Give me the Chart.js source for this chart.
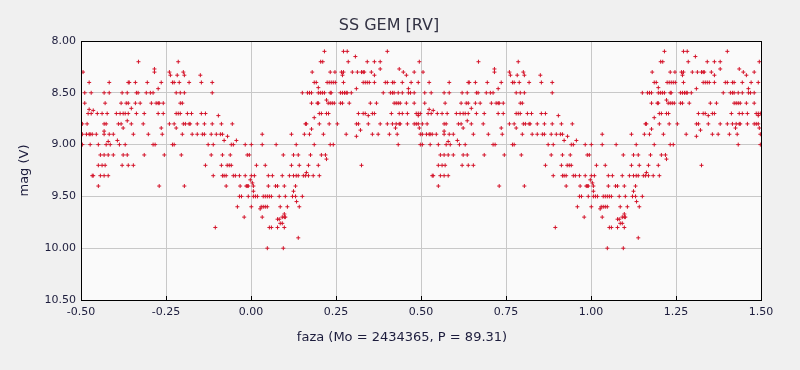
<!DOCTYPE html>
<html><head><meta charset="utf-8">
<script src="https://cdn.jsdelivr.net/npm/chart.js@4.4.0/dist/chart.umd.min.js"></script>
<style>html,body{margin:0;padding:0;background:#f0f0f0;overflow:hidden}</style>
</head><body>
<canvas id="c" width="800" height="370"></canvas>
<script>
const chartTitle = 'SS GEM [RV]';
const xTitle = 'faza (Mo = 2434365, P = 89.31)';
const yTitle = 'mag (V)';
const xTicks = [-0.5, -0.25, 0, 0.25, 0.5, 0.75, 1, 1.25, 1.5];
const yTicks = [8, 8.5, 9, 9.5, 10, 10.5];

// magnitude levels and the phases (0..1) at which observations appear
const magLevels = [
  8.1, 8.15, 8.2, 8.27, 8.3, 8.33, 8.4, 8.45, 8.46, 8.5, 8.57, 8.6, 8.65, 8.66, 8.67,
  8.7, 8.72, 8.74, 8.77, 8.8, 8.84, 8.85, 8.86, 8.87, 8.9, 8.92, 8.96, 8.97, 9.0,
  9.1, 9.14, 9.2, 9.27, 9.3, 9.34, 9.37, 9.4, 9.45, 9.5, 9.55, 9.6, 9.62, 9.67,
  9.7, 9.72, 9.76, 9.8, 9.9, 10.0
];
const phasesAtLevel = [
  /*8.1 */ [0.216, 0.272, 0.283, 0.401],
  /*8.15*/ [0.307],
  /*8.2 */ [0.205, 0.211, 0.286, 0.342, 0.363, 0.380, 0.495, 0.669, 0.786],
  /*8.27*/ [0.380, 0.436, 0.716],
  /*8.3 */ [0.180, 0.233, 0.247, 0.266, 0.272, 0.298, 0.313, 0.325, 0.330, 0.333, 0.354, 0.448, 0.480, 0.506, 0.716, 0.760, 0.801],
  /*8.33*/ [0.269, 0.363, 0.457, 0.763, 0.783, 0.804, 0.851],
  /*8.4 */ [0.186, 0.192, 0.224, 0.230, 0.236, 0.242, 0.248, 0.272, 0.330, 0.336, 0.342, 0.348, 0.363, 0.395, 0.401, 0.416, 0.421, 0.445, 0.471, 0.492, 0.524, 0.583, 0.639, 0.642, 0.660, 0.695, 0.736, 0.769, 0.774, 0.789, 0.818, 0.854, 0.886],
  /*8.45*/ [0.198],
  /*8.46*/ [0.310, 0.463, 0.727],
  /*8.5 */ [0.151, 0.166, 0.172, 0.178, 0.198, 0.204, 0.210, 0.216, 0.233, 0.236, 0.263, 0.269, 0.275, 0.280, 0.283, 0.295, 0.389, 0.410, 0.416, 0.421, 0.433, 0.445, 0.463, 0.469, 0.480, 0.511, 0.530, 0.568, 0.583, 0.621, 0.636, 0.663, 0.668, 0.692, 0.704, 0.712, 0.780, 0.792, 0.804, 0.886],
  /*8.57*/ [0.222],
  /*8.6 */ [0.178, 0.195, 0.198, 0.227, 0.233, 0.239, 0.245, 0.263, 0.269, 0.289, 0.351, 0.369, 0.421, 0.427, 0.433, 0.439, 0.457, 0.480, 0.511, 0.571, 0.618, 0.633, 0.639, 0.660, 0.674, 0.707, 0.721, 0.727, 0.730, 0.742, 0.792, 0.798],
  /*8.65*/ [0.648],
  /*8.66*/ [0.524],
  /*8.67*/ [0.536],
  /*8.7 */ [0.201, 0.207, 0.222, 0.228, 0.316, 0.330, 0.336, 0.357, 0.363, 0.413, 0.436, 0.445, 0.460, 0.486, 0.492, 0.498, 0.521, 0.530, 0.548, 0.562, 0.577, 0.604, 0.615, 0.624, 0.630, 0.639, 0.663, 0.686, 0.727, 0.742, 0.780, 0.786, 0.792, 0.813, 0.825, 0.854, 0.866],
  /*8.72*/ [0.345, 0.492, 0.904],
  /*8.74*/ [0.186],
  /*8.77*/ [0.636],
  /*8.8 */ [0.160, 0.163, 0.201, 0.230, 0.254, 0.310, 0.316, 0.345, 0.380, 0.401, 0.416, 0.427, 0.436, 0.439, 0.460, 0.480, 0.486, 0.492, 0.504, 0.518, 0.568, 0.574, 0.610, 0.618, 0.648, 0.683, 0.760, 0.774, 0.801, 0.807, 0.818, 0.821, 0.842, 0.863, 0.886, 0.913, 0.945],
  /*8.84*/ [0.425, 0.495, 0.624, 0.736, 0.780],
  /*8.85*/ [0.178],
  /*8.86*/ [0.322],
  /*8.87*/ [0.568],
  /*8.9 */ [0.033, 0.119, 0.157, 0.172, 0.213, 0.280, 0.357, 0.374, 0.407, 0.430, 0.498, 0.504, 0.516, 0.524, 0.527, 0.533, 0.545, 0.568, 0.583, 0.595, 0.654, 0.698, 0.739, 0.798, 0.827, 0.842, 0.857, 0.863, 0.883, 0.898, 0.910, 0.916],
  /*8.92*/ [0.310, 0.931],
  /*8.96*/ [0.607, 0.921, 0.957],
  /*8.97*/ [0.580],
  /*9.0 */ [0.001, 0.033, 0.074, 0.133, 0.186, 0.233, 0.242, 0.433, 0.498, 0.504, 0.527, 0.551, 0.574, 0.586, 0.613, 0.630, 0.712, 0.718, 0.769, 0.774, 0.874, 0.889, 0.942, 0.948, 0.983],
  /*9.1 */ [0.095, 0.125, 0.139, 0.175, 0.207, 0.219, 0.557, 0.568, 0.580, 0.595, 0.624, 0.636, 0.686, 0.745, 0.795, 0.883, 0.916, 0.939, 0.989, 0.995],
  /*9.14*/ [0.222],
  /*9.2 */ [0.016, 0.042, 0.119, 0.142, 0.169, 0.198, 0.325, 0.551, 0.562, 0.571, 0.621, 0.639, 0.654, 0.866, 0.913, 0.930, 0.936, 0.942],
  /*9.27*/ [0.163],
  /*9.3 */ [0.001, 0.010, 0.051, 0.063, 0.092, 0.113, 0.125, 0.133, 0.139, 0.154, 0.160, 0.169, 0.183, 0.201, 0.533, 0.536, 0.557, 0.568, 0.580, 0.889, 0.916, 0.921, 0.927, 0.948, 0.954, 0.966, 0.983],
  /*9.34*/ [0.998],
  /*9.37*/ [0.004],
  /*9.4 */ [0.007, 0.051, 0.072, 0.078, 0.098, 0.131, 0.551, 0.730, 0.804, 0.927, 0.968, 0.986, 0.989, 0.992],
  /*9.45*/ [0.007, 0.125],
  /*9.5 */ [0.007, 0.013, 0.019, 0.036, 0.042, 0.048, 0.054, 0.060, 0.083, 0.101, 0.122, 0.131, 0.151, 0.966, 0.972, 0.992],
  /*9.55*/ [0.134],
  /*9.6 */ [0.001, 0.030, 0.036, 0.042, 0.048, 0.086, 0.107, 0.142, 0.960],
  /*9.62*/ [0.027],
  /*9.67*/ [0.098],
  /*9.7 */ [0.033, 0.092, 0.098, 0.101, 0.980],
  /*9.72*/ [0.078, 0.083],
  /*9.76*/ [0.086, 0.092],
  /*9.8 */ [0.054, 0.060, 0.078, 0.098, 0.895],
  /*9.9 */ [0.139],
  /*10.0*/ [0.048, 0.095]
];
// phase diagram shows each observation at phase, phase-1 and phase+1 (visible range -0.5..1.5)
const cycleShifts = [-1, 0, 1];

const points = [];
magLevels.forEach((m, i) => {
  phasesAtLevel[i].forEach(p => {
    cycleShifts.forEach(s => {
      const x = p + s;
      if (x >= -0.5 && x <= 1.5) points.push({x: x, y: m});
    });
  });
});

const TXT = '#1c1c3c';
const FONT = "'DejaVu Sans', Verdana, sans-serif";

const framePlugin = {
  id: 'frame',
  beforeDraw(chart) {
    const {ctx, chartArea: a} = chart;
    ctx.save();
    ctx.fillStyle = '#f0f0f0';
    ctx.fillRect(0, 0, chart.width, chart.height);
    ctx.fillStyle = '#fafafa';
    ctx.fillRect(a.left, a.top, a.right - a.left, a.bottom - a.top);
    ctx.restore();
  },
  afterDraw(chart) {
    const {ctx, chartArea: a, scales} = chart;
    ctx.save();
    ctx.strokeStyle = '#000';
    ctx.lineWidth = 1;
    ctx.beginPath();
    xTicks.forEach(v => {
      const px = Math.round(scales.x.getPixelForValue(v)) + 0.5;
      ctx.moveTo(px, Math.round(a.bottom));
      ctx.lineTo(px, Math.round(a.bottom) - 4);
    });
    ctx.stroke();
    ctx.strokeRect(Math.round(a.left) + 0.5, Math.round(a.top) + 0.5,
                   Math.round(a.right - a.left), Math.round(a.bottom - a.top));
    // x-axis title, centred on the canvas as in the original
    ctx.fillStyle = TXT;
    ctx.font = '13px ' + FONT;
    ctx.textAlign = 'center';
    ctx.textBaseline = 'middle';
    ctx.fillText(xTitle, 402, 338);
    ctx.restore();
  }
};

new Chart(document.getElementById('c'), {
  type: 'scatter',
  data: {
    datasets: [{
      data: points,
      pointStyle: 'cross',
      pointRadius: 2,
      pointHoverRadius: 2,
      borderWidth: 1,
      borderColor: '#d4142a',
      backgroundColor: '#d4142a'
    }]
  },
  options: {
    responsive: false,
    devicePixelRatio: 1,
    animation: false,
    layout: {padding: {left: 17, right: 39, top: 0, bottom: 0}},
    plugins: {
      legend: {display: false},
      tooltip: {enabled: false},
      title: {
        display: true, text: chartTitle, color: '#333344',
        font: {family: FONT, size: 16, weight: 'normal'},
        padding: {top: 16, bottom: 5.8}
      }
    },
    scales: {
      x: {
        type: 'linear', min: -0.5, max: 1.5,
        afterBuildTicks: s => { s.ticks = xTicks.map(v => ({value: v})); },
        afterFit: s => { s.height = 70; },
        grid: {color: '#c8c8c8', drawTicks: false},
        border: {display: true, color: '#000'},
        ticks: {padding: 6, color: TXT, font: {family: FONT, size: 11},
                callback: v => Number(v).toFixed(2), maxRotation: 0, autoSkip: false},
        title: {display: false, text: xTitle}
      },
      y: {
        type: 'linear', min: 8, max: 10.5, reverse: true,
        afterBuildTicks: s => { s.ticks = yTicks.map(v => ({value: v})); },
        afterFit: s => { s.width = 64; },
        grid: {color: '#c8c8c8', drawTicks: false},
        border: {display: true, color: '#000'},
        ticks: {padding: 5, color: TXT, font: {family: FONT, size: 11},
                callback: v => Number(v).toFixed(2), autoSkip: false},
        title: {display: true, text: yTitle, color: TXT,
                font: {family: FONT, size: 13}, padding: {top: 0, bottom: 0}}
      }
    }
  },
  plugins: [framePlugin]
});
</script>
</body></html>
